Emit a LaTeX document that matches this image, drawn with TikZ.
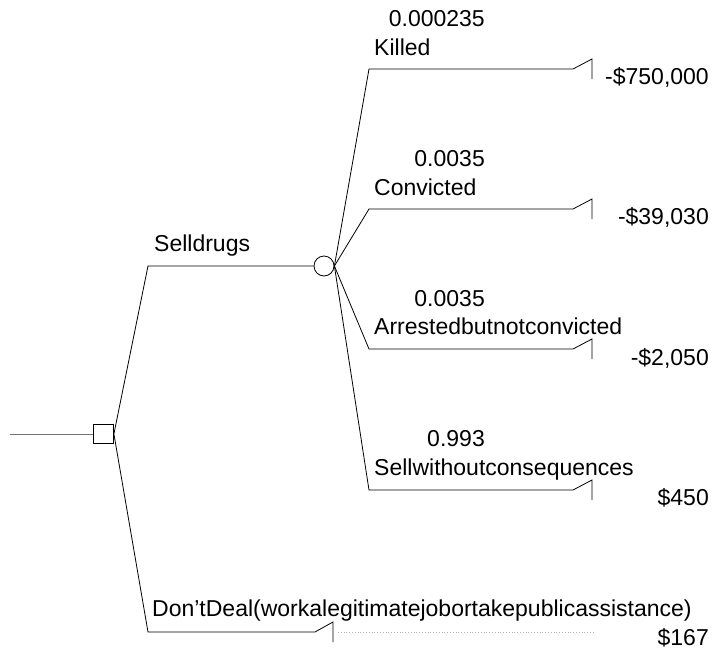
\documentclass[tikz,border=0pt]{standalone}
\usepackage{fontspec}
\setmainfont{Liberation Sans}[Ligatures=ResetAll]
\begin{document}
\begin{tikzpicture}[x=1pt,y=-1pt,
  edge/.style={draw=black,line width=0.8pt},
  rootline/.style={draw=black!55,line width=1pt},
  dotline/.style={draw=black!30,line width=0.8pt,dotted},
  txt/.style={inner sep=0pt,font=\fontsize{23pt}{27pt}\selectfont},
  lbl/.style={txt,anchor=base west},
  prob/.style={txt,anchor=base east},
  pay/.style={txt,anchor=base east},
  decbox/.style={draw,rectangle,minimum width=20pt,minimum height=19pt,inner sep=0pt,line width=0.8pt},
  chance/.style={draw,circle,minimum size=20pt,inner sep=0pt,line width=0.8pt}]
\useasboundingbox (0,0) rectangle (715,651);
% nodes
\coordinate (start) at (10,434);
\node[decbox] (dec) at (103.5,434) {};
\node[chance] (ch) at (324,266) {};
\draw[rootline] (start) -- (dec.west);
% sell drugs branch
\coordinate (up) at (148,266);
\draw[edge] (dec.east) -- (up) -- (ch.west);
\node[lbl] (sell) at (154,251) {Selldrugs};
% don't deal branch
\coordinate (dn) at (148,632);
\coordinate (dnA) at (315,632);
\coordinate (dnB) at (333,622);
\coordinate (dnC) at (333,642);
\coordinate (dotA) at (338,632);
\coordinate (dotB) at (595,632);
\draw[edge] (dec.east) -- (dn) -- (dnA) -- (dnB) -- (dnC);
\draw[dotline] (dotA) -- (dotB);
\node[lbl] (dontl) at (152,616) {Don't{}Deal(workalegitimatejobortakepublicassistance)};
\node[pay] (dontv) at (709,645) {\$167};
% killed
\coordinate (k0) at (369,69);
\coordinate (k1) at (573,69);
\coordinate (k2) at (592,59);
\coordinate (k3) at (592,79);
\draw[edge] (ch.east) -- (k0) -- (k1) -- (k2) -- (k3);
\node[prob] (kp) at (485,26) {0.000235};
\node[lbl] (kl) at (374,55) {Killed};
\node[pay] (kv) at (709,84) {-\$750,000};
% convicted
\coordinate (c0) at (369,209);
\coordinate (c1) at (573,209);
\coordinate (c2) at (592,199);
\coordinate (c3) at (592,219);
\draw[edge] (ch.east) -- (c0) -- (c1) -- (c2) -- (c3);
\node[prob] (cp) at (485,166) {0.0035};
\node[lbl] (cl) at (374,195) {Convicted};
\node[pay] (cv) at (709,224) {-\$39,030};
% arrested
\coordinate (a0) at (369,349);
\coordinate (a1) at (573,349);
\coordinate (a2) at (592,339);
\coordinate (a3) at (592,359);
\draw[edge] (ch.east) -- (a0) -- (a1) -- (a2) -- (a3);
\node[prob] (ap) at (485,306) {0.0035};
\node[lbl] (al) at (374,334) {Arrestedbutnotconvicted};
\node[pay] (av) at (709,365) {-\$2,050};
% sell without consequences
\coordinate (s0) at (369,490);
\coordinate (s1) at (573,490);
\coordinate (s2) at (592,480);
\coordinate (s3) at (592,500);
\draw[edge] (ch.east) -- (s0) -- (s1) -- (s2) -- (s3);
\node[prob] (sp) at (485,446) {0.993};
\node[lbl] (sl) at (374,475) {Sellwithoutconsequences};
\node[pay] (sv) at (709,505) {\$450};
\end{tikzpicture}
\end{document}
